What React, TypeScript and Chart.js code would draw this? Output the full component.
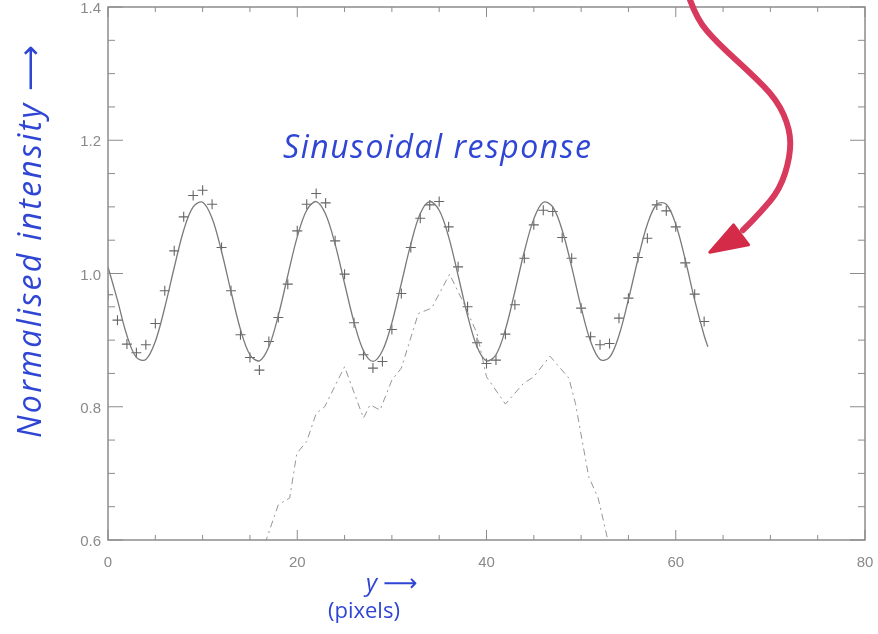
import React, { useEffect, useRef } from "react";
import { Chart, registerables } from "chart.js";

Chart.register(...registerables);

// ---- Data ----
const xTickValues = [0, 20, 40, 60, 80];
const yTickValues = [0.6, 0.8, 1.0, 1.2, 1.4];

// measured "+" points (pixel index vs normalised intensity)
const measuredX = [
  0, 1, 2, 3, 4, 5, 6, 7, 8, 9, 10, 11, 12, 13, 14, 15, 16, 17, 18, 19, 20, 21,
  22, 23, 24, 25, 26, 27, 28, 29, 30, 31, 32, 33, 34, 35, 36, 37, 38, 39, 40,
  41, 42, 43, 44, 45, 46, 47, 48, 49, 50, 51, 52, 53, 54, 55, 56, 57, 58, 59,
  60, 61, 62, 63,
];
const measuredY = [
  0.968, 0.93, 0.894, 0.881, 0.893, 0.925, 0.974, 1.034, 1.085, 1.117, 1.125,
  1.104, 1.039, 0.974, 0.908, 0.874, 0.855, 0.898, 0.934, 0.984, 1.064, 1.104,
  1.12, 1.106, 1.049, 0.999, 0.926, 0.878, 0.858, 0.868, 0.916, 0.97, 1.039,
  1.083, 1.103, 1.108, 1.07, 1.01, 0.95, 0.896, 0.865, 0.87, 0.909, 0.953,
  1.023, 1.073, 1.095, 1.093, 1.054, 1.023, 0.948, 0.905, 0.893, 0.895, 0.933,
  0.963, 1.024, 1.053, 1.103, 1.094, 1.07, 1.016, 0.969, 0.928,
];

// fitted sinusoid (solid line)
const fitX = [
  0, 1, 2, 3, 4, 5, 6, 7, 8, 9, 10, 11, 12, 13, 14, 15, 16, 17, 18, 19, 20, 21,
  22, 23, 24, 25, 26, 27, 28, 29, 30, 31, 32, 33, 34, 35, 36, 37, 38, 39, 40,
  41, 42, 43, 44, 45, 46, 47, 48, 49, 50, 51, 52, 53, 54, 55, 56, 57, 58, 59,
  60, 61, 62, 63, 63.4,
];
const fitY = [
  1.01, 0.96, 0.907, 0.874, 0.871, 0.898, 0.949, 1.009, 1.065, 1.1, 1.107,
  1.083, 1.033, 0.973, 0.916, 0.878, 0.869, 0.89, 0.937, 0.997, 1.055, 1.095,
  1.108, 1.089, 1.044, 0.985, 0.927, 0.884, 0.868, 0.884, 0.926, 0.985, 1.044,
  1.09, 1.108, 1.095, 1.055, 0.997, 0.937, 0.89, 0.869, 0.878, 0.916, 0.973,
  1.033, 1.082, 1.107, 1.1, 1.065, 1.01, 0.949, 0.898, 0.871, 0.874, 0.907,
  0.961, 1.021, 1.074, 1.104, 1.104, 1.074, 1.021, 0.96, 0.907, 0.89,
];

// dash-dot profile
const profileX = [
  16.6, 18.0, 19.2, 19.95, 21.0, 22.0, 22.9, 25.0, 27.0, 27.7, 28.75, 30.0,
  31.0, 32.8, 34.2, 36.1, 37.6, 39.0, 40.0, 42.0, 43.9, 45.0, 46.7, 48.7, 49.4,
  50.8, 51.8, 52.9,
];
const profileY = [
  0.595, 0.653, 0.663, 0.73, 0.748, 0.79, 0.8, 0.86, 0.783, 0.803, 0.795, 0.84,
  0.858, 0.94, 0.948, 0.999, 0.955, 0.91, 0.845, 0.804, 0.835, 0.845, 0.876,
  0.843, 0.805, 0.695, 0.663, 0.595,
];

// hand-drawn red arrow (in data coordinates)
const arrowX = [61.5, 62.26, 64.4, 67.9, 70.7, 72.1, 72.1, 71.0, 68.9, 67.1];
const arrowY = [1.411, 1.381, 1.346, 1.301, 1.261, 1.216, 1.175, 1.126, 1.091, 1.065];
const arrowHeadX = [63.6, 66.1, 67.7];
const arrowHeadY = [1.032, 1.073, 1.043];

const AXIS_GREY = "#8c8c8c";
const INK_BLUE = "#2f45d4";

const framePlugin = {
  id: "idlFrame",
  afterDraw(chart: any) {
    const { ctx, chartArea: a, scales } = chart;
    const xs = scales.x;
    const ys = scales.y;
    ctx.save();
    ctx.strokeStyle = AXIS_GREY;
    ctx.lineWidth = 1.5;
    ctx.strokeRect(a.left, a.top, a.right - a.left, a.bottom - a.top);
    ctx.lineWidth = 1;
    ctx.beginPath();
    for (let k = 0; k <= 16; k++) {
      const v = k * 5;
      const px = xs.getPixelForValue(v);
      const len = k % 4 === 0 ? 10 : 5;
      ctx.moveTo(px, a.bottom);
      ctx.lineTo(px, a.bottom - len);
      ctx.moveTo(px, a.top);
      ctx.lineTo(px, a.top + len);
    }
    for (let k = 0; k <= 16; k++) {
      const v = 0.6 + k * 0.05;
      const py = ys.getPixelForValue(v);
      const len = k % 4 === 0 ? 15 : 7;
      ctx.moveTo(a.left, py);
      ctx.lineTo(a.left + len, py);
      ctx.moveTo(a.right, py);
      ctx.lineTo(a.right - len, py);
    }
    ctx.stroke();

    // red arrow
    const pts = arrowX.map((v, i) => [xs.getPixelForValue(v), ys.getPixelForValue(arrowY[i])]);
    ctx.strokeStyle = "#d83a5e";
    ctx.lineWidth = 6;
    ctx.lineCap = "round";
    ctx.lineJoin = "round";
    ctx.beginPath();
    ctx.moveTo(pts[0][0], pts[0][1]);
    for (let i = 1; i < pts.length - 1; i++) {
      const mx = (pts[i][0] + pts[i + 1][0]) / 2;
      const my = (pts[i][1] + pts[i + 1][1]) / 2;
      ctx.quadraticCurveTo(pts[i][0], pts[i][1], mx, my);
    }
    ctx.lineTo(pts[pts.length - 1][0], pts[pts.length - 1][1]);
    ctx.stroke();
    ctx.fillStyle = "#d42c48";
    ctx.strokeStyle = "#d42c48";
    ctx.lineWidth = 3;
    ctx.beginPath();
    arrowHeadX.forEach((v, i) => {
      const px = xs.getPixelForValue(v);
      const py = ys.getPixelForValue(arrowHeadY[i]);
      if (i === 0) ctx.moveTo(px, py);
      else ctx.lineTo(px, py);
    });
    ctx.closePath();
    ctx.fill();
    ctx.stroke();
    ctx.restore();
  },
};

export default function App() {
  const canvasRef = useRef<HTMLCanvasElement | null>(null);

  useEffect(() => {
    document.body.style.margin = "0";
    const canvas = canvasRef.current;
    if (!canvas) return;
    const chart = new Chart(canvas, {
      type: "scatter",
      data: {
        datasets: [
          {
            label: "fit",
            data: fitX.map((x, i) => ({ x, y: fitY[i] })),
            showLine: true,
            borderColor: "#7a7a7a",
            borderWidth: 1.3,
            pointRadius: 0,
            tension: 0.35,
            fill: false,
          },
          {
            label: "measured",
            data: measuredX.map((x, i) => ({ x, y: measuredY[i] })),
            showLine: false,
            pointStyle: "cross",
            pointRadius: 5,
            borderColor: "#666666",
            borderWidth: 1.1,
            backgroundColor: "#666666",
          },
          {
            label: "profile",
            data: profileX.map((x, i) => ({ x, y: profileY[i] })),
            showLine: true,
            borderColor: "#959595",
            borderWidth: 1,
            borderDash: [7, 4, 2, 4],
            pointRadius: 0,
            tension: 0,
            fill: false,
          },
        ],
      },
      options: {
        animation: false,
        responsive: false,
        devicePixelRatio: 1,
        layout: { autoPadding: false, padding: { left: 8, right: 13, top: 7, bottom: 0 } },
        plugins: {
          legend: { display: false },
          tooltip: { enabled: false },
          title: { display: false },
        },
        scales: {
          x: {
            type: "linear",
            min: 0,
            max: 80,
            grid: { display: false, drawTicks: false },
            border: { display: false },
            afterBuildTicks: (s: any) => {
              s.ticks = xTickValues.map((v) => ({ value: v }));
            },
            afterFit: (s: any) => {
              s.height = 94;
              s.paddingLeft = 0;
              s.paddingRight = 0;
              s.paddingTop = 0;
              s.paddingBottom = 0;
            },
            ticks: {
              color: "#8a8a8a",
              font: { family: "'Liberation Sans', Arial, sans-serif", size: 15 },
              padding: 14,
              maxRotation: 0,
              callback: (v: any) => String(v),
            },
          },
          y: {
            type: "linear",
            min: 0.6,
            max: 1.4,
            grid: { display: false, drawTicks: false },
            border: { display: false },
            afterBuildTicks: (s: any) => {
              s.ticks = yTickValues.map((v) => ({ value: v }));
            },
            afterFit: (s: any) => {
              s.width = 100;
              s.paddingLeft = 0;
              s.paddingRight = 0;
              s.paddingTop = 0;
              s.paddingBottom = 0;
            },
            ticks: {
              color: "#8a8a8a",
              font: { family: "'Liberation Sans', Arial, sans-serif", size: 15 },
              padding: 7,
              labelOffset: 2,
              callback: (v: any) => Number(v).toFixed(1),
            },
          },
        },
      },
      plugins: [framePlugin],
    });
    return () => chart.destroy();
  }, []);

  const hand: React.CSSProperties = {
    position: "absolute",
    color: INK_BLUE,
    fontFamily: "'Open Sans', 'DejaVu Sans', sans-serif",
    fontStyle: "italic",
    whiteSpace: "nowrap",
    lineHeight: 1,
  };

  return (
    <div style={{ position: "fixed", left: 0, top: 0, width: 878, height: 634, background: "#fff", overflow: "hidden" }}>
      <canvas ref={canvasRef} width={878} height={634} style={{ position: "absolute", left: 0, top: 0 }} />
      <div style={{ ...hand, left: 283, top: 130, fontSize: 32, letterSpacing: 1.5 }}>Sinusoidal response</div>
      <div
        style={{
          ...hand,
          left: 13,
          top: 438,
          fontSize: 32,
          letterSpacing: 2.3,
          transformOrigin: "0 0",
          transform: "rotate(-90deg)",
        }}
      >
        Normalised intensity ⟶
      </div>
      <div style={{ ...hand, left: 366, top: 570, fontSize: 24 }}>y ⟶</div>
      <div style={{ ...hand, left: 328, top: 598, fontSize: 22, fontStyle: "normal" }}>(pixels)</div>
    </div>
  );
}
